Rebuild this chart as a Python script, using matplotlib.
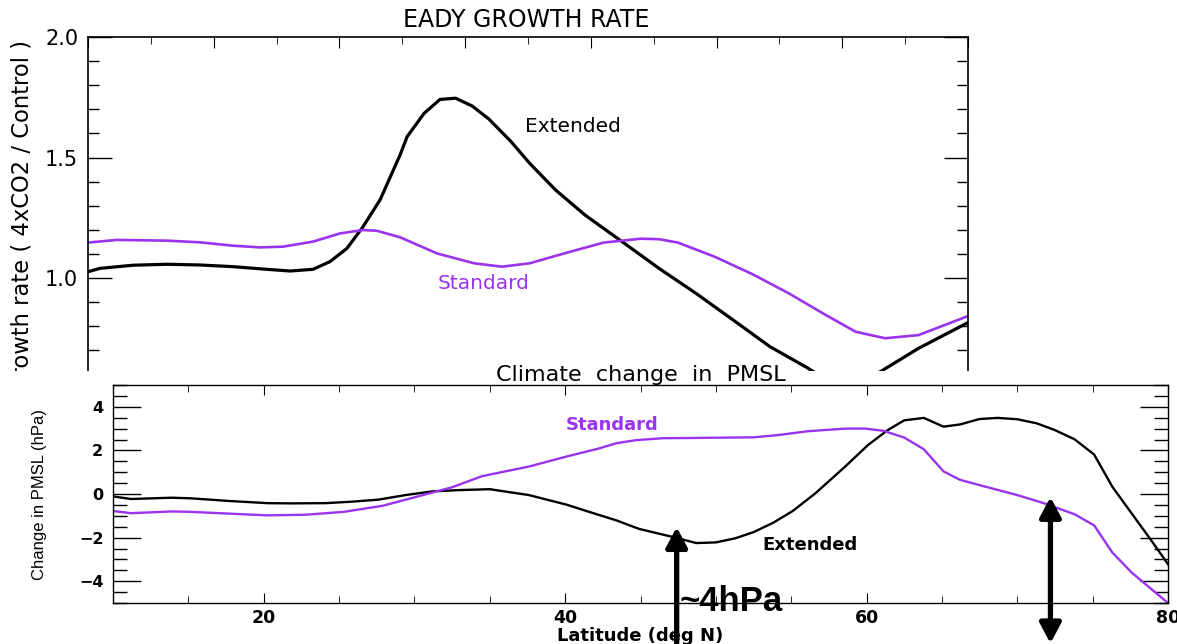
import matplotlib
matplotlib.use("Agg")
import matplotlib.pyplot as plt
from matplotlib.patches import Rectangle
from matplotlib.ticker import MultipleLocator

# ---------------- data: top panel (Eady growth rate ratio) ----------------
eady_ext_lat = [10.0, 10.95, 13.58, 16.28, 18.91, 21.53, 24.24, 26.07, 27.9, 29.25,
                30.6, 31.88, 33.23, 34.82, 35.38, 36.73, 38.0, 39.24, 40.55, 41.9,
                43.65, 45.13, 47.2, 49.54, 52.48, 55.42, 58.37, 61.31, 64.25, 67.2,
                70.2, 73.08, 76.06, 80.0]
eady_ext_val = [1.026, 1.040, 1.053, 1.057, 1.054, 1.047, 1.036, 1.029, 1.036, 1.068,
                1.123, 1.213, 1.324, 1.51, 1.586, 1.683, 1.741, 1.746, 1.714, 1.659,
                1.566, 1.476, 1.365, 1.261, 1.151, 1.040, 0.936, 0.826, 0.715, 0.628,
                0.53, 0.613, 0.708, 0.815]

eady_std_lat = [10.0, 12.28, 16.26, 18.91, 21.53, 23.68, 25.51, 27.9, 30.05, 31.88,
                32.97, 34.82, 37.76, 40.71, 42.93, 45.13, 48.08, 51.02, 53.97, 55.42,
                56.92, 59.86, 62.81, 65.76, 68.7, 71.06, 73.4, 76.06, 80.0]
eady_std_val = [1.147, 1.158, 1.155, 1.148, 1.134, 1.127, 1.130, 1.151, 1.185, 1.199,
                1.196, 1.169, 1.102, 1.061, 1.047, 1.061, 1.105, 1.147, 1.163, 1.161,
                1.147, 1.088, 1.017, 0.936, 0.846, 0.777, 0.750, 0.763, 0.842]

# ---------------- data: bottom panel (change in PMSL, hPa) ----------------
pmsl_ext_lat = [10.0, 11.2, 13.9, 15.2, 17.7, 20.25, 21.8, 24.1, 25.9, 27.6, 29.4,
                31.2, 33.0, 35.0, 37.6, 40.1, 41.5, 43.4, 44.9, 47.2, 48.7, 50.0,
                51.3, 52.5, 53.8, 55.1, 56.6, 58.6, 60.1, 61.4, 62.5, 63.8, 65.1,
                66.2, 67.5, 68.7, 70.0, 71.3, 72.5, 73.8, 75.1, 76.3, 77.6, 78.9, 80.0]
pmsl_ext_val = [-0.11, -0.23, -0.17, -0.2, -0.32, -0.42, -0.43, -0.42, -0.35, -0.26,
                -0.05, 0.12, 0.18, 0.22, -0.05, -0.49, -0.8, -1.21, -1.6, -1.98,
                -2.25, -2.22, -2.03, -1.75, -1.32, -0.78, 0.03, 1.27, 2.25, 2.93,
                3.38, 3.49, 3.09, 3.19, 3.44, 3.49, 3.43, 3.24, 2.93, 2.51, 1.81,
                0.34, -0.9, -2.14, -3.22]

pmsl_std_lat = [10.0, 11.2, 13.9, 15.2, 17.7, 20.25, 22.8, 25.3, 27.9, 30.4, 32.5,
                34.5, 37.6, 40.1, 42.2, 43.4, 44.7, 46.5, 48.5, 51.0, 52.5, 54.1,
                56.1, 58.6, 59.9, 61.1, 62.5, 63.8, 65.1, 66.2, 67.7, 70.0, 71.8,
                73.8, 75.1, 76.3, 77.6, 80.0]
pmsl_std_val = [-0.78, -0.88, -0.8, -0.82, -0.9, -0.98, -0.95, -0.82, -0.54, -0.08,
                0.31, 0.82, 1.26, 1.72, 2.08, 2.33, 2.47, 2.56, 2.57, 2.59, 2.6,
                2.70, 2.88, 3.0, 3.0, 2.9, 2.59, 2.05, 1.04, 0.65, 0.37, -0.05,
                -0.43, -0.93, -1.44, -2.68, -3.61, -5.0]

x_ticks_major = [20, 40, 60, 80]
top_yticks = [1.0, 1.5, 2.0]
bot_yticks = [-4, -2, 0, 2, 4]

PURPLE = "#9933EE"
W, H = 1177, 644

fig = plt.figure(figsize=(W / 100, H / 100), dpi=100)

# ---------------- top panel ----------------
axt = fig.add_axes([88 / W, 1 - 398.5 / H, 880 / W, 361.5 / H])
axt.plot(eady_ext_lat, eady_ext_val, color="black", lw=2.3, solid_joinstyle="round")
axt.plot(eady_std_lat, eady_std_val, color=PURPLE, lw=1.9)
axt.set_xlim(10, 80)
axt.set_ylim(0.5, 2.0)
axt.set_yticks(top_yticks)
axt.set_yticklabels(["1.0", "1.5", "2.0"])
axt.yaxis.set_minor_locator(MultipleLocator(0.1))
axt.xaxis.set_major_locator(MultipleLocator(10))
axt.xaxis.set_minor_locator(MultipleLocator(5))
axt.tick_params(axis="y", which="major", direction="in", length=17, width=1,
                left=True, right=True, labelsize=15, pad=7)
axt.tick_params(axis="y", which="minor", direction="in", length=8, width=1,
                left=True, right=True)
axt.tick_params(axis="x", which="major", direction="in", length=8, top=True,
                bottom=False, labelbottom=False)
axt.tick_params(axis="x", which="minor", direction="in", length=5, top=True,
                bottom=False)
for s in axt.spines.values():
    s.set_linewidth(1.2)
axt.text(44.8, 1.627, "Extended", color="black", fontsize=14.5, va="center", ha="left")
axt.text(37.84, 0.979, "Standard", color=PURPLE, fontsize=14.5, va="center", ha="left")

fig.text(526 / W, 1 - 20 / H, "EADY GROWTH RATE", fontsize=17, ha="center", va="center")
fig.text(22 / W, 1 - 40 / H, "Growth rate ( 4xCO2 / Control )", fontsize=16.3,
         rotation=90, ha="center", va="top")

# white sheet covering the lower part of the top panel
cover = Rectangle((0, 0), 1, 1 - 371 / H, transform=fig.transFigure,
                  facecolor="white", edgecolor="none", zorder=5)
fig.add_artist(cover)

# ---------------- bottom panel ----------------
axb = fig.add_axes([113 / W, 1 - 603 / H, 1055 / W, 218 / H])
axb.set_zorder(10)
axb.patch.set_alpha(0)
axb.plot(pmsl_ext_lat, pmsl_ext_val, color="black", lw=1.7)
axb.plot(pmsl_std_lat, pmsl_std_val, color=PURPLE, lw=1.7)
axb.set_xlim(10, 80)
axb.set_ylim(-5, 5)
axb.set_xticks(x_ticks_major)
axb.xaxis.set_minor_locator(MultipleLocator(5))
axb.set_yticks(bot_yticks)
axb.set_yticklabels(["\u22124", "\u22122", "0", "2", "4"])
axb.yaxis.set_minor_locator(MultipleLocator(0.5))
axb.tick_params(axis="y", which="major", direction="in", length=20, width=1,
                left=True, right=True, labelsize=11.5, pad=7)
axb.tick_params(axis="y", which="minor", direction="in", length=10, width=1,
                left=True, right=True)
axb.tick_params(axis="x", which="major", direction="in", length=7, top=True,
                bottom=True, labelsize=12.5, pad=4)
axb.tick_params(axis="x", which="minor", direction="in", length=5, top=True,
                bottom=True)
for lab in axb.get_xticklabels() + axb.get_yticklabels():
    lab.set_fontweight("bold")
for s in axb.spines.values():
    s.set_linewidth(1.0)
axb.set_xlabel("Latitude (deg N)", fontsize=13, fontweight="bold", labelpad=0)
axb.set_ylabel("Change in PMSL (hPa)", fontsize=12, family="Liberation Sans")
axb.yaxis.set_label_coords(-0.0625, 0.5)
axb.set_title("Climate  change  in  PMSL", fontsize=16, pad=1)

axb.text(40.06, 3.17, "Standard", color=PURPLE, fontsize=13, fontweight="bold",
         va="center", ha="left")
axb.text(53.07, -2.34, "Extended", color="black", fontsize=13, fontweight="bold",
         va="center", ha="left")

# annotation arrows
arrow1_lat, arrow1_tip, arrow1_tail = 47.4, -1.52, -7.5
arrow2_lat, arrow2_top, arrow2_bot = 72.2, -0.14, -6.85
axb.annotate("", xy=(arrow1_lat, arrow1_tip), xytext=(arrow1_lat, arrow1_tail),
             arrowprops=dict(arrowstyle="-|>,head_length=0.6,head_width=0.32",
                             lw=3.8, color="black", mutation_scale=20,
                             shrinkA=0, shrinkB=0),
             annotation_clip=False)
axb.annotate("", xy=(arrow2_lat, arrow2_top), xytext=(arrow2_lat, arrow2_bot),
             arrowprops=dict(arrowstyle="<|-|>,head_length=0.6,head_width=0.32",
                             lw=3.8, color="black", mutation_scale=20,
                             shrinkA=0, shrinkB=0),
             annotation_clip=False)
axb.text(47.6, -4.95, "~4hPa", fontsize=25, fontweight="bold",
         family="Liberation Sans", ha="left", va="center", clip_on=False)

fig.savefig("out.png", dpi=100)
